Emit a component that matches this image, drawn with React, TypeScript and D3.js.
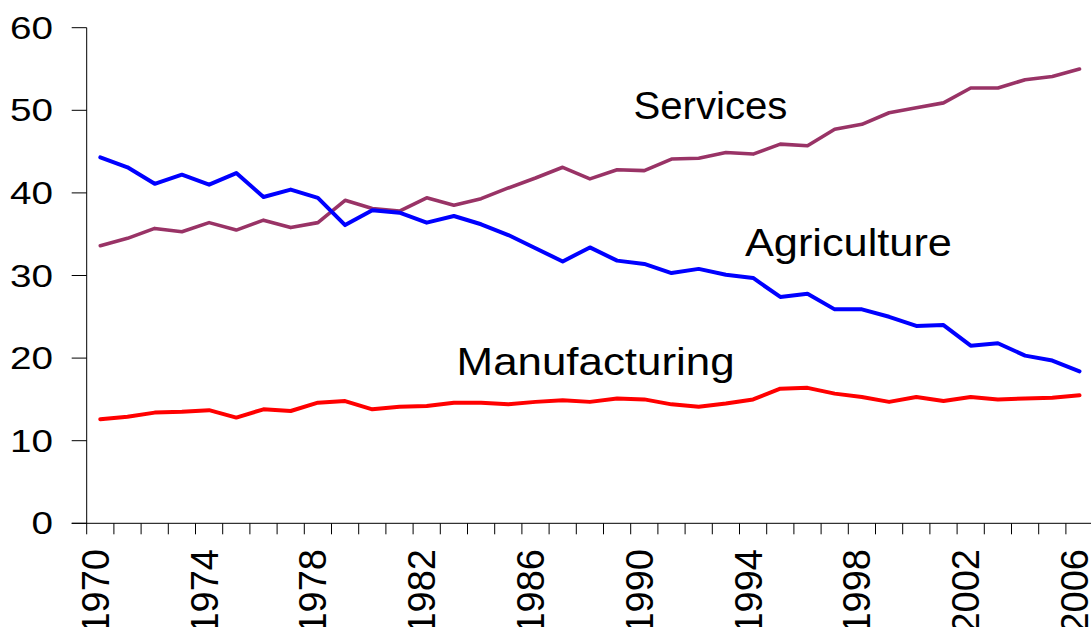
import React from "react";
import * as d3 from "d3";

const years: number[] = d3.range(1970, 2007);
const services: number[] = [
  33.6, 34.5, 35.7, 35.3, 36.4, 35.5, 36.7, 35.8, 36.4, 39.1, 38.1, 37.8,
  39.4, 38.5, 39.3, 40.6, 41.8, 43.1, 41.7, 42.8, 42.7, 44.1, 44.2, 44.9,
  44.7, 45.9, 45.7, 47.7, 48.3, 49.7, 50.3, 50.9, 52.7, 52.7, 53.7, 54.1, 55.0,
];
const agriculture: number[] = [
  44.3, 43.1, 41.1, 42.2, 41.0, 42.4, 39.5, 40.4, 39.4, 36.1, 37.9, 37.6,
  36.4, 37.2, 36.2, 34.9, 33.3, 31.7, 33.4, 31.8, 31.4, 30.3, 30.8, 30.1,
  29.7, 27.4, 27.8, 25.9, 25.9, 25.0, 23.9, 24.0, 21.5, 21.8, 20.3, 19.7, 18.4,
];
const manufacturing: number[] = [
  12.6, 12.9, 13.4, 13.5, 13.7, 12.8, 13.8, 13.6, 14.6, 14.8, 13.8, 14.1,
  14.2, 14.6, 14.6, 14.4, 14.7, 14.9, 14.7, 15.1, 15.0, 14.4, 14.1, 14.5,
  15.0, 16.3, 16.4, 15.7, 15.3, 14.7, 15.3, 14.8, 15.3, 15.0, 15.1, 15.2, 15.5,
];
const yTicks: number[] = [0, 10, 20, 30, 40, 50, 60];
const xLabelYears: number[] = [1970, 1974, 1978, 1982, 1986, 1990, 1994, 1998, 2002, 2006];

const seriesNames: string[] = ["Services", "Agriculture", "Manufacturing"];
const seriesColors: string[] = ["#993366", "#0000FF", "#FF0000"];
// label anchors (in data units: fractional year index, value)
const labelYearIdx: number[] = [19.6, 23.7, 13.1];
const labelValues: number[] = [49.0, 32.4, 18.0];

const W = 1091;
const H = 627;
const left = 86.7;
const step = 27.2;
const top = 27.7;
const bottom = 523.3;

export default function App() {
  const x = d3
    .scaleBand<number>()
    .domain(years)
    .range([left, left + step * years.length])
    .paddingInner(0)
    .paddingOuter(0);
  const xIdx = d3.scaleLinear().domain([0, 1]).range([left + step / 2, left + step * 1.5]);
  const y = d3.scaleLinear().domain([0, 60]).range([bottom, top]);
  const cx = (yr: number) => (x(yr) as number) + x.bandwidth() / 2;

  const line = d3
    .line<number>()
    .x((_, i) => cx(years[i]))
    .y((v) => y(v));

  const data = [services, agriculture, manufacturing];
  const widths = [3.6, 4, 4];
  const labelFonts = [38, 38, 38];
  const labelLens = [154, 207, 278];

  return (
    <svg
      width={W}
      height={H}
      style={{ position: "absolute", left: 0, top: 0, background: "#fff" }}
      fontFamily="'Liberation Sans', Arial, sans-serif"
    >
      <rect x={0} y={0} width={W} height={H} fill="#fff" />
      {/* y axis */}
      <line x1={left} x2={left} y1={top} y2={bottom} stroke="#000" strokeWidth={1} />
      {yTicks.map((t) => (
        <g key={t}>
          <line x1={left - 15} x2={left} y1={y(t)} y2={y(t)} stroke="#000" strokeWidth={1} />
          <text
            x={53}
            y={y(t) + 11}
            textAnchor="end"
            fontSize={32}
            textLength={String(t).length * 21.5}
            lengthAdjust="spacingAndGlyphs"
            fill="#000"
          >
            {t}
          </text>
        </g>
      ))}
      {/* x axis */}
      <line x1={left - 15} x2={W} y1={bottom} y2={bottom} stroke="#000" strokeWidth={1} />
      {years.map((yr) => (
        <line
          key={yr}
          x1={x(yr) as number}
          x2={x(yr) as number}
          y1={bottom}
          y2={bottom + 11}
          stroke="#000"
          strokeWidth={1}
        />
      ))}
      {xLabelYears.map((yr) => (
        <text
          key={yr}
          transform={`translate(${cx(yr) - 5 + 13.5},${549}) rotate(-90)`}
          textAnchor="end"
          fontSize={38}
          fill="#000"
        >
          {yr}
        </text>
      ))}
      {/* lines */}
      {data.map((d, i) => (
        <path
          key={seriesNames[i]}
          d={line(d) || ""}
          fill="none"
          stroke={seriesColors[i]}
          strokeWidth={widths[i]}
          strokeLinejoin="round"
          strokeLinecap="round"
        />
      ))}
      {/* labels */}
      {seriesNames.map((n, i) => (
        <text
          key={n}
          x={xIdx(labelYearIdx[i]) - step / 2 + step / 2}
          y={y(labelValues[i])}
          fontSize={labelFonts[i]}
          textLength={labelLens[i]}
          lengthAdjust="spacingAndGlyphs"
          fill="#000"
        >
          {n}
        </text>
      ))}
    </svg>
  );
}
